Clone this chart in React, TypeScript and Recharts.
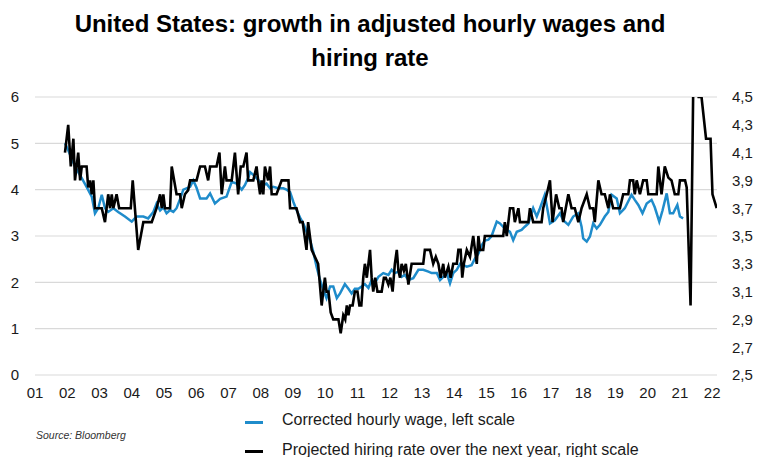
import React from "react";
import { CartesianGrid, Line, LineChart, XAxis, YAxis } from "recharts";

// x positions in fractional years
const yearTicks = [
  2001, 2002, 2003, 2004, 2005, 2006, 2007, 2008, 2009, 2010, 2011,
  2012, 2013, 2014, 2015, 2016, 2017, 2018, 2019, 2020, 2021, 2022,
];
const leftTicks = [0, 1, 2, 3, 4, 5, 6];
const rightTicks = [2.5, 2.7, 2.9, 3.1, 3.3, 3.5, 3.7, 3.9, 4.1, 4.3, 4.5];

// Corrected hourly wage, left scale
const wageYears = [
  2001.93, 2002.03, 2002.24, 2002.45, 2002.6, 2002.76, 2002.86, 2002.96, 2003.07, 2003.17,
  2003.27, 2003.43, 2003.58, 2003.79, 2004.0, 2004.15, 2004.36, 2004.51, 2004.67, 2004.77,
  2004.88, 2004.98, 2005.08, 2005.19, 2005.29, 2005.39, 2005.5, 2005.6, 2005.81, 2005.91,
  2006.01, 2006.12, 2006.32, 2006.43, 2006.58, 2006.74, 2006.94, 2007.1, 2007.25, 2007.41,
  2007.51, 2007.61, 2007.67, 2007.77, 2007.87, 2007.98, 2008.08, 2008.18, 2008.29, 2008.39,
  2008.54, 2008.7, 2008.8, 2008.91, 2009.01, 2009.11, 2009.22, 2009.32, 2009.53, 2009.63,
  2009.73, 2009.84, 2009.94, 2010.04, 2010.15, 2010.25, 2010.36, 2010.46, 2010.61, 2010.72,
  2010.82, 2010.92, 2011.03, 2011.13, 2011.23, 2011.34, 2011.44, 2011.54, 2011.65, 2011.8,
  2011.96, 2012.06, 2012.16, 2012.27, 2012.37, 2012.47, 2012.58, 2012.73, 2012.89, 2013.04,
  2013.2, 2013.3, 2013.46, 2013.56, 2013.66, 2013.77, 2013.87, 2013.97, 2014.08, 2014.18,
  2014.28, 2014.39, 2014.54, 2014.65, 2014.75, 2014.85, 2014.95, 2015.06, 2015.16, 2015.32,
  2015.42, 2015.57, 2015.73, 2015.83, 2015.94, 2016.09, 2016.19, 2016.3, 2016.45, 2016.56,
  2016.66, 2016.81, 2016.97, 2017.12, 2017.28, 2017.38, 2017.54, 2017.69, 2017.85, 2017.95,
  2018.0, 2018.11, 2018.21, 2018.31, 2018.42, 2018.52, 2018.67, 2018.78, 2018.88, 2019.04,
  2019.14, 2019.29, 2019.5, 2019.6, 2019.71, 2019.84, 2019.97, 2020.12, 2020.22, 2020.36,
  2020.46, 2020.59, 2020.69, 2020.79, 2020.92, 2021.0, 2021.1,
];
const wageValues = [
  5.0, 4.85, 4.5, 4.25, 4.06, 3.85, 3.49, 3.6, 3.89, 3.6,
  3.52, 3.6, 3.52, 3.42, 3.31, 3.42, 3.42, 3.38, 3.52, 3.7,
  3.55, 3.62, 3.49, 3.56, 3.52, 3.6, 3.8, 4.0, 4.06, 4.2,
  4.04, 3.81, 3.81, 3.92, 3.7, 3.8, 3.85, 4.17, 4.13, 4.0,
  4.1, 4.25, 4.38, 4.32, 4.25, 4.17, 4.1, 4.13, 4.03, 4.06,
  4.03, 4.03, 4.0, 3.95, 3.74, 3.56, 3.4, 3.27, 2.91, 2.66,
  2.34, 2.05, 1.84, 1.66, 1.91, 1.91, 1.66, 1.76, 1.96, 1.86,
  1.76, 1.86, 1.86, 1.91, 1.96, 1.88, 2.05, 1.98, 2.12, 2.2,
  2.16, 2.27, 2.2, 2.23, 2.12, 2.16, 2.05, 2.09, 2.27, 2.27,
  2.23, 2.2, 2.2, 2.05, 2.12, 2.2, 1.98, 2.2, 2.27, 2.4,
  2.37, 2.34, 2.37, 2.52, 2.62, 2.8, 2.9, 2.92, 3.0, 3.31,
  3.27, 3.16, 3.09, 2.91, 3.09, 3.13, 3.2, 3.27, 3.6, 3.42,
  3.6, 3.89, 3.27, 3.34, 3.49, 3.34, 3.24, 3.42, 3.49, 3.2,
  2.95, 2.88, 2.99, 3.27, 3.16, 3.24, 3.42, 3.52, 3.89, 3.81,
  3.49, 3.6, 3.89, 3.78, 3.67, 3.49, 3.7, 3.78, 3.62, 3.31,
  3.55, 3.92, 3.49, 3.49, 3.67, 3.42, 3.38,
];

// Projected hiring rate over the next year, right scale
const hiringYears = [
  2001.93, 2002.03, 2002.11, 2002.19, 2002.24, 2002.34, 2002.4, 2002.45, 2002.55, 2002.6,
  2002.65, 2002.71, 2002.76, 2002.81, 2002.86, 2003.07, 2003.17, 2003.27, 2003.33, 2003.38,
  2003.43, 2003.53, 2003.61, 2003.97, 2004.03, 2004.2, 2004.36, 2004.62, 2004.77, 2004.88,
  2004.93, 2004.98, 2005.03, 2005.19, 2005.24, 2005.39, 2005.5, 2005.55, 2005.65, 2005.75,
  2005.81, 2006.01, 2006.12, 2006.27, 2006.37, 2006.43, 2006.63, 2006.72, 2006.79, 2006.89,
  2006.94, 2007.1, 2007.2, 2007.3, 2007.38, 2007.46, 2007.56, 2007.61, 2007.77, 2007.87,
  2007.92, 2007.98, 2008.03, 2008.08, 2008.13, 2008.23, 2008.29, 2008.34, 2008.49, 2008.65,
  2008.86, 2008.91, 2009.11, 2009.22, 2009.3, 2009.42, 2009.47, 2009.58, 2009.68, 2009.78,
  2009.89, 2009.99, 2010.04, 2010.1, 2010.17, 2010.25, 2010.41, 2010.48, 2010.56, 2010.62,
  2010.67, 2010.72, 2010.77, 2010.85, 2010.92, 2011.0, 2011.06, 2011.12, 2011.18, 2011.23,
  2011.29, 2011.39, 2011.44, 2011.49, 2011.55, 2011.62, 2011.75, 2011.82, 2011.88, 2011.96,
  2012.02, 2012.09, 2012.16, 2012.22, 2012.27, 2012.32, 2012.37, 2012.44, 2012.5, 2012.58,
  2012.68, 2012.94, 2013.04, 2013.09, 2013.25, 2013.35, 2013.43, 2013.51, 2013.58, 2013.66,
  2013.71, 2013.82, 2013.89, 2013.97, 2014.08, 2014.13, 2014.2, 2014.25, 2014.3, 2014.39,
  2014.49, 2014.59, 2014.7, 2014.75, 2014.8, 2014.9, 2014.95, 2015.16, 2015.26, 2015.52,
  2015.57, 2015.63, 2015.73, 2015.83, 2015.88, 2015.99, 2016.04, 2016.3, 2016.35, 2016.45,
  2016.71, 2016.76, 2016.87, 2016.97, 2017.05, 2017.16, 2017.26, 2017.33, 2017.38, 2017.54,
  2017.64, 2017.74, 2017.85, 2017.95, 2018.11, 2018.21, 2018.31, 2018.36, 2018.47, 2018.57,
  2018.67, 2018.78, 2018.83, 2018.93, 2019.04, 2019.14, 2019.24, 2019.4, 2019.45, 2019.55,
  2019.6, 2019.66, 2019.76, 2019.86, 2019.97, 2020.02, 2020.28, 2020.33, 2020.43, 2020.53,
  2020.64, 2020.74, 2020.84, 2020.95, 2021.0, 2021.16, 2021.21, 2021.33, 2021.42, 2021.58,
  2021.67, 2021.81, 2021.95, 2022.01, 2022.14,
];
const hiringValues = [
  4.1, 4.3, 4.0, 4.2, 3.9, 4.1, 3.9, 4.0, 4.0, 4.0,
  3.85, 3.9, 3.8, 3.9, 3.7, 3.7, 3.6, 3.8, 3.7, 3.8,
  3.7, 3.8, 3.7, 3.7, 3.9, 3.4, 3.6, 3.6, 3.7, 3.8,
  3.7, 3.8, 3.7, 3.7, 4.0, 3.8, 3.8, 3.7, 3.8, 3.83,
  3.9, 3.9, 4.0, 4.0, 3.9, 4.0, 4.0, 4.1, 3.8, 4.0,
  3.9, 3.9, 4.1, 3.8, 4.0, 4.0, 4.1, 3.9, 3.9, 4.0,
  3.9, 3.8, 3.9, 3.8, 4.0, 3.9, 4.0, 3.8, 3.8, 3.9,
  3.9, 3.7, 3.7, 3.6, 3.6, 3.4, 3.6, 3.4, 3.35, 3.3,
  3.0, 3.2, 3.1, 3.1, 2.95, 2.9, 2.9, 2.8, 2.93, 2.9,
  3.0, 2.93, 3.0, 3.0, 3.1, 3.1, 3.0, 3.0, 3.2, 3.3,
  3.2, 3.4, 3.2, 3.1, 3.2, 3.1, 3.1, 3.2, 3.2, 3.15,
  3.2, 3.1, 3.3, 3.4, 3.25, 3.2, 3.3, 3.25, 3.3, 3.15,
  3.3, 3.3, 3.3, 3.4, 3.4, 3.3, 3.35, 3.3, 3.2, 3.3,
  3.2, 3.28, 3.2, 3.3, 3.3, 3.4, 3.4, 3.2, 3.3, 3.4,
  3.35, 3.5, 3.3, 3.5, 3.4, 3.4, 3.5, 3.5, 3.5, 3.5,
  3.6, 3.5, 3.7, 3.7, 3.6, 3.7, 3.6, 3.6, 3.7, 3.6,
  3.6, 3.7, 3.8, 3.9, 3.6, 3.8, 3.7, 3.7, 3.6, 3.8,
  3.7, 3.7, 3.6, 3.7, 3.8, 3.7, 3.7, 3.6, 3.9, 3.8,
  3.8, 3.7, 3.8, 3.7, 3.7, 3.7, 3.8, 3.8, 3.9, 3.9,
  3.8, 3.9, 3.8, 3.9, 3.9, 3.8, 3.8, 4.0, 3.8, 4.0,
  3.92, 3.9, 3.8, 3.8, 3.9, 3.9, 3.85, 3.0, 4.7, 4.5,
  4.5, 4.2, 4.2, 3.8, 3.7,
];

const wageData = wageYears.map((t, i) => ({ t, wage: wageValues[i] }));
const hiringData = hiringYears.map((t, i) => ({ t, hiring: hiringValues[i] }));

const FONT = "'Liberation Sans', Arial, sans-serif";
const TEXT = "#1a1a1a";
const BLUE = "#1f8ccb";

export default function App() {
  return (
    <div
      style={{
        position: "absolute",
        left: 0,
        top: 0,
        width: 757,
        height: 457,
        background: "#fff",
        fontFamily: FONT,
        color: TEXT,
      }}
    >
      <div
        style={{
          position: "absolute",
          left: 0,
          top: 7,
          width: 740,
          textAlign: "center",
          fontWeight: "bold",
          fontSize: 24,
          lineHeight: "34px",
          color: "#000",
        }}
      >
        United States: growth in adjusted hourly wages and
        <br />
        hiring rate
      </div>

      <LineChart
        width={757}
        height={457}
        margin={{ top: 97, right: 0, left: 0, bottom: 52 }}
        style={{ position: "absolute", left: 0, top: 0 }}
      >
        <CartesianGrid vertical={false} stroke="#d9d9d9" strokeWidth={1.2} />
        <XAxis
          type="number"
          dataKey="t"
          domain={[2001, 2022.15]}
          allowDataOverflow
          ticks={yearTicks}
          interval={0}
          tickFormatter={(v) => String(v % 100).padStart(2, "0")}
          axisLine={false}
          tickLine={false}
          tickSize={6}
          tickMargin={6}
          height={30}
          tick={{ fill: TEXT, fontSize: 15, fontFamily: FONT }}
        />
        <YAxis
          yAxisId={0}
          domain={[0, 6]}
          ticks={leftTicks}
          allowDataOverflow
          axisLine={false}
          tickLine={false}
          tickSize={8}
          tickMargin={8}
          width={35}
          tick={{ fill: TEXT, fontSize: 15, fontFamily: FONT }}
        />
        <YAxis
          yAxisId="right"
          orientation="right"
          domain={[2.5, 4.5]}
          ticks={rightTicks}
          allowDataOverflow
          axisLine={false}
          tickLine={false}
          tickSize={8}
          tickMargin={7}
          width={40}
          tickFormatter={(v) => v.toFixed(1).replace(".", ",")}
          tick={{ fill: TEXT, fontSize: 15, fontFamily: FONT }}
        />
        <Line
          yAxisId={0}
          data={wageData}
          dataKey="wage"
          type="linear"
          stroke={BLUE}
          strokeWidth={2.5}
          dot={false}
          isAnimationActive={false}
        />
        <Line
          yAxisId="right"
          data={hiringData}
          dataKey="hiring"
          type="linear"
          stroke="#000"
          strokeWidth={2.6}
          dot={false}
          isAnimationActive={false}
        />
      </LineChart>

      <div
        style={{
          position: "absolute",
          left: 36,
          top: 429,
          fontSize: 10.5,
          fontStyle: "italic",
          color: "#333",
        }}
      >
        Source: Bloomberg
      </div>

      <div style={{ position: "absolute", left: 245, top: 409, fontSize: 16 }}>
        <div style={{ display: "flex", alignItems: "center", height: 21 }}>
          <span style={{ width: 18, height: 3, background: BLUE, marginRight: 19, marginTop: 5 }} />
          <span>Corrected hourly wage, left scale</span>
        </div>
        <div style={{ display: "flex", alignItems: "center", height: 21, marginTop: 9 }}>
          <span style={{ width: 18, height: 3, background: "#000", marginRight: 19, marginTop: 4 }} />
          <span>Projected hiring rate over the next year, right scale</span>
        </div>
      </div>
    </div>
  );
}
